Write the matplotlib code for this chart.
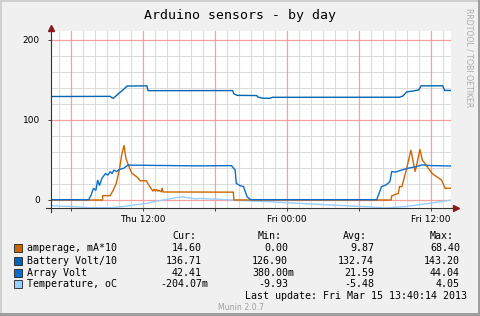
import matplotlib
matplotlib.use("Agg")
import matplotlib.pyplot as plt
from matplotlib.patches import Rectangle
from matplotlib.lines import Line2D
from matplotlib.ticker import MultipleLocator, FixedLocator, FuncFormatter

# ---------------- data (hours since Thu 00:00) ----------------
amp_h = [4.36, 8.65, 8.67, 9.3, 9.55, 9.8, 10.05, 10.25, 10.45, 10.6, 10.8, 11.1, 11.5, 11.8, 12.3,
         12.5, 12.75, 12.85, 12.95, 13.05, 13.15, 13.25, 13.35, 13.55, 13.62, 13.7, 19.55, 19.6,
         32.7, 32.75, 33.3, 33.4, 33.6, 34.0, 34.35, 34.7, 34.8, 35.1, 35.3, 35.7, 36.1, 36.5,
         36.9, 37.2, 37.69]
amp_v = [0.0, 0.0, 5.4, 5.4, 12.5, 20.8, 37.5, 56.0, 68.4, 52.0, 43.8, 33.3, 29.0, 24.0, 24.0,
         18.8, 13.3, 11.0, 13.5, 11.0, 13.5, 11.0, 12.0, 10.0, 15.0, 10.0, 9.8, 0.0,
         0.0, 5.0, 8.3, 16.7, 16.7, 39.6, 62.5, 35.4, 41.7, 63.3, 50.0, 41.7, 33.3, 29.0,
         25.0, 14.6, 14.6]

bat_h = [4.36, 9.3, 9.4, 9.55, 10.0, 10.4, 10.7, 12.35, 12.45, 19.5, 19.6, 19.9, 21.5, 21.6,
         22.0, 22.6, 22.8, 33.4, 33.7, 34.0, 34.5, 35.0, 35.2, 37.0, 37.15, 37.69]
bat_v = [129.2, 129.4, 128.0, 127.0, 133.0, 138.0, 142.3, 142.5, 136.5, 136.6, 132.5, 130.6,
         130.4, 128.5, 127.1, 127.0, 128.2, 128.3, 130.0, 135.0, 136.0, 137.5, 142.5, 142.6,
         136.8, 136.7]

arr_h = [4.36, 7.5, 7.7, 7.9, 8.1, 8.25, 8.4, 8.6, 8.9, 9.1, 9.3, 9.45, 9.6, 9.8, 10.1, 10.4,
         10.8, 11.0, 14.0, 16.5, 19.4, 19.7, 19.8, 20.1, 20.4, 20.7, 21.0, 31.5, 31.9, 32.3,
         32.6, 32.75, 33.1, 33.6, 34.1, 34.8, 35.25, 36.0, 37.69]
arr_v = [0.4, 0.4, 6.0, 14.6, 12.0, 25.0, 18.0, 27.0, 33.0, 31.0, 35.4, 33.0, 37.5, 35.5, 38.3,
         39.5, 43.8, 43.5, 43.0, 42.6, 42.9, 37.5, 20.8, 18.0, 16.7, 4.0, 0.4, 0.4, 16.7, 19.0,
         23.0, 35.4, 35.0, 37.5, 39.6, 41.7, 43.8, 43.0, 42.4]

tmp_h = [4.36, 6.0, 7.5, 9.4, 10.5, 12.3, 13.7, 14.8, 15.3, 16.4, 16.7, 19.5, 22.3, 25.0,
         27.8, 30.5, 32.2, 33.8, 35.5, 37.69]
tmp_v = [-7.1, -8.2, -9.5, -9.6, -8.0, -4.2, 0.0, 2.9, 4.0, 1.3, 2.0, 0.0, -2.0, -4.2,
         -6.3, -8.3, -9.9, -8.3, -5.0, -0.2]

series_names = ["amperage, mA*10", "Battery Volt/10", "Array Volt", "Temperature, oC"]
series_colors = ["#CC6600", "#0066B3", "#0A6FCC", "#99CCFF"]
cur_vals = [14.60, 136.71, 42.41, -0.20407]
min_vals = [0.00, 126.90, 0.380, -9.93]
avg_vals = [9.87, 132.74, 21.59, -5.48]
max_vals = [68.40, 143.20, 44.04, 4.05]

x_tick_pos = [12, 24, 36]
x_tick_labels = ["Thu 12:00", "Fri 00:00", "Fri 12:00"]
y_tick_pos = [0, 100, 200]
y_tick_labels = ["0", "100", "200"]

title = "Arduino sensors - by day"
last_update = "Last update: Fri Mar 15 13:40:14 2013"

# ---------------- figure ----------------
W, H = 481, 316
fig = plt.figure(figsize=(W / 100, H / 100), dpi=100, facecolor="#F0F0F0")

def fx(px):
    return px / W

def fy(py):
    return 1 - py / H

ax_l, ax_r, ax_t, ax_b = 51, 451, 31, 208
ax = fig.add_axes([fx(ax_l), fy(ax_b), fx(ax_r - ax_l), (ax_b - ax_t) / H])
ax.set_facecolor("white")
xlo, xhi = 4.36, 37.69
ax.set_xlim(xlo, xhi)
ax.set_ylim(-10, 211)

# grid lines: minor (gray) every hour / 20 units, major (red) every 6 h / 100 units
minor_x = [h for h in range(5, 38) if h % 6 != 0]
major_x = [h for h in range(5, 38) if h % 6 == 0]
for h in minor_x:
    ax.axvline(h, color="#DCDCDC", lw=0.8, zorder=0.5, snap=True)
for v in (-0, 20, 40, 60, 80, 120, 140, 160, 180):
    if v % 100 != 0:
        ax.axhline(v, color="#DCDCDC", lw=0.8, zorder=0.5, snap=True)
for h in major_x:
    ax.axvline(h, color="#F4A0A0", lw=0.9, zorder=0.6, snap=True)
for v in y_tick_pos:
    ax.axhline(v, color="#F4A0A0", lw=0.9, zorder=0.6, snap=True)

ax.xaxis.set_major_locator(FixedLocator(major_x))
labmap = dict(zip(x_tick_pos, x_tick_labels))
ax.xaxis.set_major_formatter(FuncFormatter(lambda v, p: labmap.get(int(round(v)), "")))
ax.yaxis.set_major_locator(FixedLocator(y_tick_pos))
ylabmap = dict(zip(y_tick_pos, y_tick_labels))
ax.yaxis.set_major_formatter(FuncFormatter(lambda v, p: ylabmap.get(int(round(v)), "")))

for s in ax.spines.values():
    s.set_visible(False)
ax.tick_params(which="major", length=2, width=0.7, color="#444444", labelsize=6.5,
               pad=3, labelcolor="black")
ax.tick_params(axis="y", pad=6)

lines = [(amp_h, amp_v), (bat_h, bat_v), (arr_h, arr_v), (tmp_h, tmp_v)]
order = [3, 0, 1, 2]
for i in order:
    h, v = lines[i]
    ax.plot(h, v, color=series_colors[i], lw=1.0, solid_joinstyle="miter", zorder=3)

# axis lines with arrows (figure pixel coords)
axcol = "#333333"
fig.add_artist(Line2D([fx(51), fx(51)], [fy(212), fy(29)], color=axcol, lw=0.8))
fig.add_artist(Line2D([fx(46), fx(455)], [fy(208), fy(208)], color=axcol, lw=0.8))
fig.add_artist(Line2D([fx(51)], [fy(28)], marker="^", ms=4, color="#8B1A1A", lw=0))
fig.add_artist(Line2D([fx(456)], [fy(208)], marker=">", ms=4, color="#8B1A1A", lw=0))

# title
mono = "DejaVu Sans Mono"
fig.text(fx(240), fy(16), title, family=mono, size=9.5, ha="center", va="center")

# vertical credit
fig.text(fx(469), fy(8), "RRDTOOL / TOBI OETIKER", family="DejaVu Sans", size=5.6,
         color="#AAAAAA", rotation=270, ha="center", va="top")

# legend
fs = 7.2
headers = ["Cur:", "Min:", "Avg:", "Max:"]
header_x = [172.7, 257.7, 343.3, 430.0]
col_x = [202, 288, 374, 460]
for hx, ht in zip(header_x, headers):
    fig.text(fx(hx), fy(236), ht, family=mono, size=fs, ha="left", va="center")

def fmt(v):
    if v != 0 and abs(v) < 1:
        return f"{v * 1000:.2f}", "m"
    return f"{v:.2f}", ""

row_y = [248.3, 260.7, 272.7, 284.3]
cols = [cur_vals, min_vals, avg_vals, max_vals]
for i, name in enumerate(series_names):
    y = row_y[i]
    fig.patches.append(Rectangle((fx(14), fy(y + 4)), fx(8), 8 / H, transform=fig.transFigure,
                                 facecolor=series_colors[i], edgecolor="#222222", lw=0.6))
    fig.text(fx(26.7), fy(y), name, family=mono, size=fs, ha="left", va="center")
    for cx, vals in zip(col_x, cols):
        num, suf = fmt(vals[i])
        fig.text(fx(cx), fy(y), num, family=mono, size=fs, ha="right", va="center")
        if suf:
            fig.text(fx(cx), fy(y), suf, family=mono, size=fs, ha="left", va="center")

fig.text(fx(466.7), fy(296), last_update, family=mono, size=fs, ha="right", va="center")
fig.text(fx(241), fy(307.3), "Munin 2.0.7", family="DejaVu Sans", size=5.6, color="#A0A0A0",
         ha="center", va="center")

# outer border
fig.patches.append(Rectangle((0, fy(2)), 1, 2 / H, transform=fig.transFigure,
                             facecolor="#CFCFCF", lw=0))
fig.patches.append(Rectangle((0, 0), fx(2), 1, transform=fig.transFigure,
                             facecolor="#CFCFCF", lw=0))
fig.patches.append(Rectangle((0, 0), 1, 3 / H, transform=fig.transFigure,
                             facecolor="#9E9E9E", lw=0))
fig.patches.append(Rectangle((fx(478), 0), fx(3), 1, transform=fig.transFigure,
                             facecolor="#9E9E9E", lw=0))

fig.savefig("out.png", dpi=100, facecolor=fig.get_facecolor())
